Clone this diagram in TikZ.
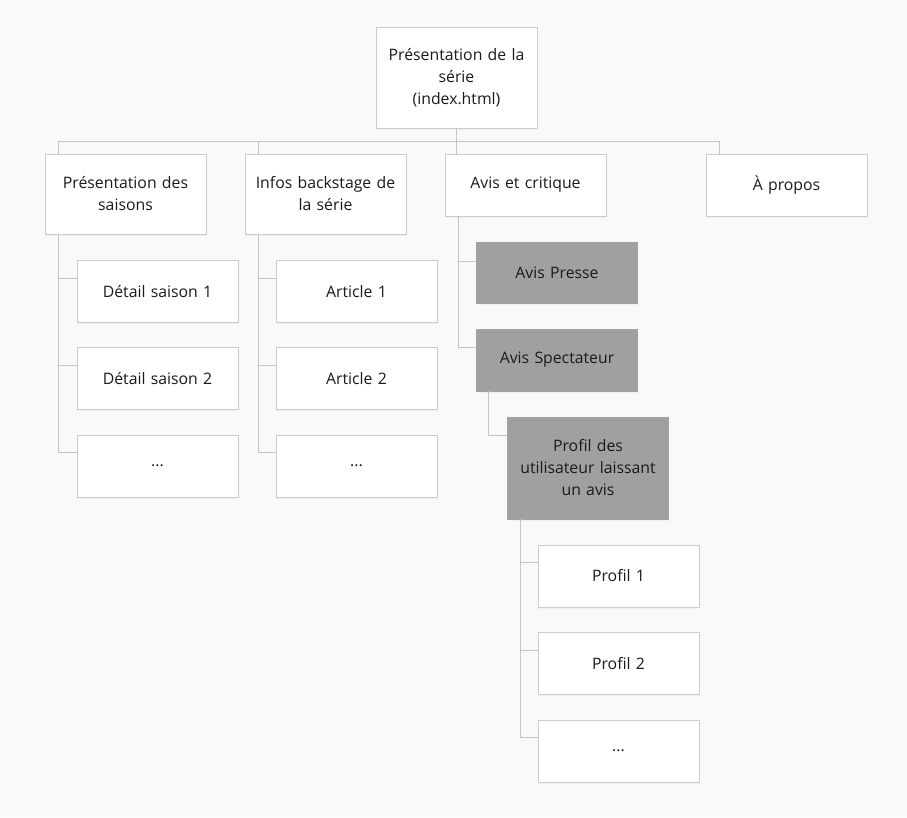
\documentclass[tikz,border=0pt]{standalone}
\usepackage{fontspec}
\setmainfont{Open Sans}
\usetikzlibrary{shadows}
\definecolor{bg}{HTML}{F8F9FA}
\definecolor{edge}{HTML}{CCCCCC}
\definecolor{conncol}{HTML}{C4C4C4}
\definecolor{darkfill}{HTML}{A0A0A0}
\definecolor{txt}{HTML}{1A1A1A}
\tikzset{
  box/.style={draw=edge, fill=white, line width=0.8pt, minimum width=161pt, text width=158pt, align=center,
    inner sep=0pt, text=txt, font=\fontsize{15.8}{22}\selectfont,
    drop shadow={opacity=0.08, shadow xshift=0pt, shadow yshift=-1.5pt}},
  gbox/.style={box, fill=darkfill, draw=edge!80!black},
  conn/.style={draw=conncol, line width=0.8pt},
}
\begin{document}
\begin{tikzpicture}[x=1pt,y=-1pt]
\fill[bg] (0,0) rectangle (907,817);
\useasboundingbox (0,0) rectangle (907,817);
% level 0
\node[box, minimum height=101pt] (root) at (456.5,77.5) {Présentation de la\\série\\(index.html)};
% level 1
\node[box, minimum height=80pt] (saisons) at (125.5,194) {Présentation des\\saisons};
\node[box, minimum height=80pt] (backstage) at (325.5,194) {Infos backstage de\\la série};
\node[box, minimum height=62pt] (avis) at (525.5,185) {Avis et critique};
\node[box, minimum height=62pt] (apropos) at (786.5,185) {À propos};
% saisons children
\node[box, minimum height=62pt] (det1) at (157.5,291.5) {Détail saison 1};
\node[box, minimum height=62pt] (det2) at (157.5,378.5) {Détail saison 2};
\node[box, minimum height=62pt] (det3) at (157.5,466) {...};
% backstage children
\node[box, minimum height=62pt] (art1) at (356.5,291.5) {Article 1};
\node[box, minimum height=62pt] (art2) at (356.5,378.5) {Article 2};
\node[box, minimum height=62pt] (art3) at (356.5,466) {...};
% avis children
\node[gbox, minimum height=61pt] (presse) at (557,273) {Avis Presse};
\node[gbox, minimum height=62pt] (spect) at (557,360) {Avis Spectateur};
\node[gbox, minimum height=102pt] (profils) at (588,468) {Profil des\\utilisateur laissant\\un avis};
% profil children
\node[box, minimum height=62pt] (p1) at (618.5,576) {Profil 1};
\node[box, minimum height=62pt] (p2) at (618.5,663.5) {Profil 2};
\node[box, minimum height=62pt] (p3) at (618.5,751) {...};
% connectors
\draw[conn] (root.south) -- (root.south |- avis.north);
\draw[conn] ([xshift=14pt]saisons.north west) -- ++(0,-12) -| ([xshift=14pt]apropos.north west);
\draw[conn] ([xshift=14pt]backstage.north west) -- ++(0,-12);
\draw[conn] ([xshift=14pt]saisons.south west) |- ([yshift=-18pt]det1.north west);
\draw[conn] ([xshift=14pt]saisons.south west) |- ([yshift=-18pt]det2.north west);
\draw[conn] ([xshift=14pt]saisons.south west) |- ([yshift=-18pt]det3.north west);
\draw[conn] ([xshift=14pt]backstage.south west) |- ([yshift=-18pt]art1.north west);
\draw[conn] ([xshift=14pt]backstage.south west) |- ([yshift=-18pt]art2.north west);
\draw[conn] ([xshift=14pt]backstage.south west) |- ([yshift=-18pt]art3.north west);
\draw[conn] ([xshift=14pt]avis.south west) |- ([yshift=-19pt]presse.north west);
\draw[conn] ([xshift=14pt]avis.south west) |- ([yshift=-19pt]spect.north west);
\draw[conn] ([xshift=12pt]spect.south west) |- ([yshift=-19pt]profils.north west);
\draw[conn] ([xshift=13pt]profils.south west) |- ([yshift=-18pt]p1.north west);
\draw[conn] ([xshift=13pt]profils.south west) |- ([yshift=-18pt]p2.north west);
\draw[conn] ([xshift=13pt]profils.south west) |- ([yshift=-18pt]p3.north west);
\end{tikzpicture}
\end{document}
